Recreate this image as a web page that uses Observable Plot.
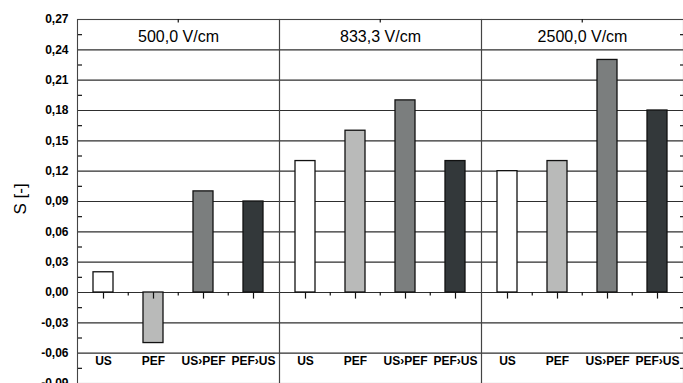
<!DOCTYPE html>
<html>
<head>
<meta charset="utf-8">
<script src="https://cdn.jsdelivr.net/npm/d3@7"></script>
<script src="https://cdn.jsdelivr.net/npm/@observablehq/plot@0.6"></script>
<style>
  html, body { margin: 0; padding: 0; background: #fff; }
  #chart svg { display: block; font-family: "Liberation Sans", Arial, sans-serif; }
</style>
</head>
<body>
<div id="chart"></div>
<script>
const fields = ["500,0 V/cm", "833,3 V/cm", "2500,0 V/cm"];
const treatments = ["US", "PEF", "US›PEF", "PEF›US"];
const s500 = [0.02, -0.05, 0.10, 0.09];
const s833 = [0.13, 0.16, 0.19, 0.13];
const s2500 = [0.12, 0.13, 0.23, 0.18];
const yTicks = [-0.09, -0.06, -0.03, 0, 0.03, 0.06, 0.09, 0.12, 0.15, 0.18, 0.21, 0.24, 0.27];
const yMinor = [-0.075, -0.045, -0.015, 0.015, 0.045, 0.075, 0.105, 0.135, 0.165, 0.195, 0.225, 0.255];
const barColors = ["#ffffff", "#b9bab9", "#7b7e7e", "#33383a"];

const series = [s500, s833, s2500];
const data = [];
fields.forEach((f, i) => treatments.forEach((t, j) => data.push({field: f, treat: t, value: series[i][j]})));
const fieldRows = fields.map(f => ({field: f}));
const minorX = [];
fields.forEach(f => treatments.slice(1).forEach(t => minorX.push({field: f, treat: t})));
const centerX = fields.map(f => ({field: f, treat: treatments[2]}));

const W = 683, H = 383, ML = 77, MR = 0, MT = 19, MB = 0;
const band = (W - ML - MR) / fields.length / treatments.length;
const fmt = d => d.toFixed(2).replace(".", ",");

const chart = Plot.plot({
  width: W, height: H,
  marginLeft: ML, marginRight: MR, marginTop: MT, marginBottom: MB,
  style: {fontFamily: "'Liberation Sans', Arial, sans-serif", color: "#000", background: "#fff"},
  fx: {domain: fields, padding: 0, axis: null, label: null},
  x: {domain: treatments, paddingInner: 0, paddingOuter: 0, axis: null, label: null},
  y: {domain: [-0.09, 0.27], axis: null},
  color: {domain: treatments, range: barColors},
  marks: [
    Plot.gridY(yTicks, {stroke: "#2e2e2e", strokeOpacity: 1, strokeWidth: 1.1}),
    Plot.frame({stroke: "#444", strokeWidth: 1.1}),
    Plot.barY(data, {fx: "field", x: "treat", y: "value", fill: "treat", stroke: "#111", strokeWidth: 1.3, insetLeft: 15, insetRight: 15}),
    // ticks at zero line
    Plot.ruleX(data, {fx: "field", x: "treat", y1: 0, y2: -0.0065, stroke: "#111", strokeWidth: 1.2}),
    Plot.ruleX(minorX, {fx: "field", x: "treat", y1: 0, y2: -0.0035, dx: -band / 2, stroke: "#111", strokeWidth: 1.2}),
    // top tick at panel centre
    Plot.ruleX(centerX, {fx: "field", x: "treat", y1: 0.27, y2: 0.2665, dx: -band / 2, stroke: "#111", strokeWidth: 1.2}),
    // left axis labels
    Plot.axisY({ticks: yTicks, tickSize: 0, tickPadding: 9, tickFormat: fmt, fontWeight: "bold", fontSize: 12, fill: "#000", label: null}),
    // inward minor ticks on left edge (drawn to the right)
    Plot.axisY({ticks: yMinor, anchor: "right", frameAnchor: "left", facetAnchor: "left-empty", tickSize: 4, tickFormat: () => "", label: null, stroke: "#111", strokeWidth: 1.2}),
    // inward minor ticks on right edge (drawn to the left)
    Plot.axisY({ticks: yMinor, anchor: "left", frameAnchor: "right", facetAnchor: "right-empty", tickSize: 3, tickFormat: () => "", label: null, stroke: "#111", strokeWidth: 1.2}),
    // category labels
    Plot.text(data, {fx: "field", x: "treat", text: "treat", frameAnchor: "bottom", dy: -19, fontWeight: "bold", fontSize: 12, fill: "#000"}),
    // panel titles
    Plot.text(fieldRows, {fx: "field", text: "field", frameAnchor: "top", lineAnchor: "middle", dy: 17, fontSize: 16, fill: "#000"}),
    // y axis title
    Plot.text(fieldRows.slice(0, 1), {fx: "field", text: () => "S [-]", frameAnchor: "left", dx: -57, dy: 13, rotate: -90, fontSize: 17, fill: "#000"})
  ]
});
document.getElementById("chart").appendChild(chart);
</script>
</body>
</html>
